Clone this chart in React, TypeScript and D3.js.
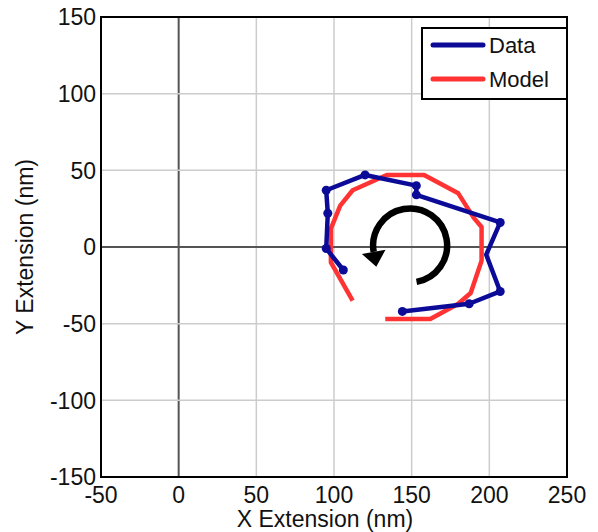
import React from 'react';
import * as d3 from 'd3';

const width = 598;
const height = 532;
const margin = { top: 17, right: 31, bottom: 55, left: 101 };

const xTicks = [-50, 0, 50, 100, 150, 200, 250];
const yTicks = [-150, -100, -50, 0, 50, 100, 150];

// measured trajectory (nm)
const dataX = [144, 187, 207, 198, 207, 153, 153, 120, 95, 96, 95, 106];
const dataY = [-42, -37, -29, -5, 16, 34, 40, 47, 37, 22, -1, -15];
const dataMarked = [true, true, true, false, true, true, true, true, true, true, true, true];

// model fit (nm)
const modelX = [133, 162, 180, 188, 195, 195, 190, 180, 158, 134, 112, 104, 98, 98, 112];
const modelY = [-47, -47, -37, -30, -9, 13, 19, 35, 47, 47, 37, 27, 12, -10, -35];

const legendNames = ['Data', 'Model'];
const colors = ['#0b0b98', '#ff3333'];

const font = '"Liberation Sans", Arial, sans-serif';

export default function App() {
  const innerW = width - margin.left - margin.right;
  const innerH = height - margin.top - margin.bottom;

  const x = d3.scaleLinear().domain([-50, 250]).range([margin.left, margin.left + innerW]);
  const y = d3.scaleLinear().domain([-150, 150]).range([margin.top + innerH, margin.top]);

  const path = (xs: number[], ys: number[]) =>
    d3
      .line<number>()
      .x((d) => x(xs[d]))
      .y((d) => y(ys[d]))(d3.range(xs.length)) || '';

  // rotation arrow
  const cx = x(149);
  const cy = y(1);
  const r = 37;
  const a0 = (80 * Math.PI) / 180;
  const a1 = (-190 * Math.PI) / 180;
  const p = d3.path();
  p.arc(cx, cy, r, a0, a1, true);
  const ex = cx + r * Math.cos(a1);
  const ey = cy + r * Math.sin(a1);
  const dx = Math.sin(a1);
  const dy = -Math.cos(a1);
  const hw = 12;
  const hl = 15;
  const head = [
    [ex - dy * hw, ey + dx * hw],
    [ex + dx * hl, ey + dy * hl],
    [ex + dy * hw, ey - dx * hw],
  ];

  return (
    <svg width={width} height={height} style={{ position: 'absolute', left: 0, top: 0, background: '#fff' }}>
      {xTicks.map((t) => (
        <line
          key={'gx' + t}
          x1={x(t)}
          x2={x(t)}
          y1={margin.top}
          y2={margin.top + innerH}
          stroke={t === 0 ? '#555' : '#ccc'}
          strokeWidth={t === 0 ? 2 : 1.5}
        />
      ))}
      {yTicks.map((t) => (
        <line
          key={'gy' + t}
          y1={y(t)}
          y2={y(t)}
          x1={margin.left}
          x2={margin.left + innerW}
          stroke={t === 0 ? '#555' : '#ccc'}
          strokeWidth={t === 0 ? 2 : 1.5}
        />
      ))}

      <path d={path(modelX, modelY)} fill="none" stroke={colors[1]} strokeWidth={4.5} strokeLinejoin="round" />
      <path d={path(dataX, dataY)} fill="none" stroke={colors[0]} strokeWidth={4.5} strokeLinejoin="round" />
      {dataX.map((v, i) =>
        dataMarked[i] ? <circle key={'pt' + i} cx={x(v)} cy={y(dataY[i])} r={4.5} fill={colors[0]} /> : null
      )}

      <path d={p.toString()} fill="none" stroke="#000" strokeWidth={6.5} />
      <polygon points={head.map((q) => q.join(',')).join(' ')} fill="#000" />

      <rect x={margin.left} y={margin.top} width={innerW} height={innerH} fill="none" stroke="#000" strokeWidth={2} />

      {xTicks.map((t) => (
        <text key={'tx' + t} x={x(t)} y={503} textAnchor="middle" fontFamily={font} fontSize={23} fill="#111">
          {t}
        </text>
      ))}
      {yTicks.map((t) => (
        <text
          key={'ty' + t}
          x={margin.left - 5}
          y={y(t)}
          dy="0.36em"
          textAnchor="end"
          fontFamily={font}
          fontSize={23}
          fill="#111"
        >
          {t}
        </text>
      ))}

      <text x={325} y={527} textAnchor="middle" fontFamily={font} fontSize={23} fill="#111">
        X Extension (nm)
      </text>
      <text
        transform={`translate(33,${y(0)}) rotate(-90)`}
        textAnchor="middle"
        fontFamily={font}
        fontSize={23}
        fill="#111"
      >
        Y Extension (nm)
      </text>

      <g transform={`translate(422,28)`}>
        <rect x={0} y={0} width={145} height={71} fill="#fff" stroke="#000" strokeWidth={2} />
        {legendNames.map((n, i) => (
          <g key={n} transform={`translate(0,${17 + i * 34})`}>
            <line x1={11} x2={61} y1={0} y2={0} stroke={colors[i]} strokeWidth={5} strokeLinecap="round" />
            <text x={67} y={0} dy="0.36em" fontFamily={font} fontSize={22} fill="#111">
              {n}
            </text>
          </g>
        ))}
      </g>
    </svg>
  );
}
